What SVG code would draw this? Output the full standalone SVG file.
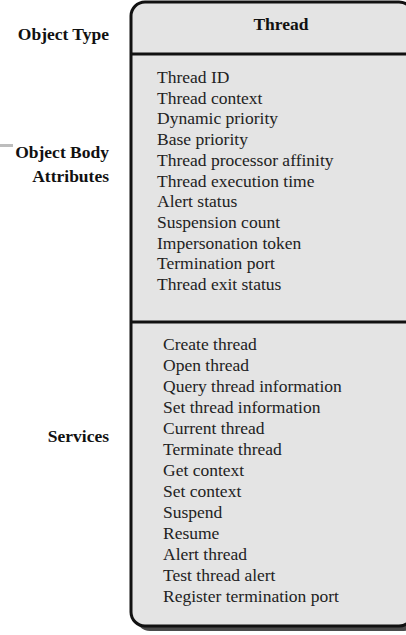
<svg xmlns="http://www.w3.org/2000/svg" width="406" height="635" viewBox="0 0 406 635">
<style>
.lbl{font-family:"Liberation Serif","Times New Roman",serif;font-weight:bold;font-size:17.5px;fill:#111;text-anchor:end}
.item{font-family:"Liberation Serif","Times New Roman",serif;font-size:17.5px;fill:#222}
.title{font-family:"Liberation Serif","Times New Roman",serif;font-weight:bold;font-size:17.5px;fill:#111;text-anchor:middle}
</style>
<rect width="406" height="635" fill="#ffffff"/>
<line x1="0" y1="145.5" x2="13" y2="145.5" stroke="#bdbdbd" stroke-width="3"/>
<g id="labels">
<text class="lbl" x="109" y="40">Object Type</text>
<text class="lbl" x="109" y="158">Object Body</text>
<text class="lbl" x="109" y="182">Attributes</text>
<text class="lbl" x="109" y="442">Services</text>
</g>
<g id="thread-object">
<rect x="136" y="7" width="282" height="624" rx="14" fill="#4a4a4a"/>
<rect x="131" y="2" width="282" height="624" rx="14" fill="#e4e4e4" stroke="#111" stroke-width="3"/>
<line x1="131" y1="54" x2="413" y2="54" stroke="#111" stroke-width="3"/>
<line x1="131" y1="322" x2="413" y2="322" stroke="#111" stroke-width="3"/>
<text class="title" x="281" y="30">Thread</text>
<g id="attributes">
<text class="item" x="157" y="83">Thread ID</text>
<text class="item" x="157" y="103.7">Thread context</text>
<text class="item" x="157" y="124.4">Dynamic priority</text>
<text class="item" x="157" y="145.1">Base priority</text>
<text class="item" x="157" y="165.8">Thread processor affinity</text>
<text class="item" x="157" y="186.5">Thread execution time</text>
<text class="item" x="157" y="207.2">Alert status</text>
<text class="item" x="157" y="227.9">Suspension count</text>
<text class="item" x="157" y="248.6">Impersonation token</text>
<text class="item" x="157" y="269.3">Termination port</text>
<text class="item" x="157" y="290">Thread exit status</text>
</g>
<g id="services">
<text class="item" x="163" y="350">Create thread</text>
<text class="item" x="163" y="371">Open thread</text>
<text class="item" x="163" y="392">Query thread information</text>
<text class="item" x="163" y="413">Set thread information</text>
<text class="item" x="163" y="434">Current thread</text>
<text class="item" x="163" y="455">Terminate thread</text>
<text class="item" x="163" y="476">Get context</text>
<text class="item" x="163" y="497">Set context</text>
<text class="item" x="163" y="518">Suspend</text>
<text class="item" x="163" y="539">Resume</text>
<text class="item" x="163" y="560">Alert thread</text>
<text class="item" x="163" y="581">Test thread alert</text>
<text class="item" x="163" y="602">Register termination port</text>
</g>
</g>
<g id="connectors"></g>
</svg>
